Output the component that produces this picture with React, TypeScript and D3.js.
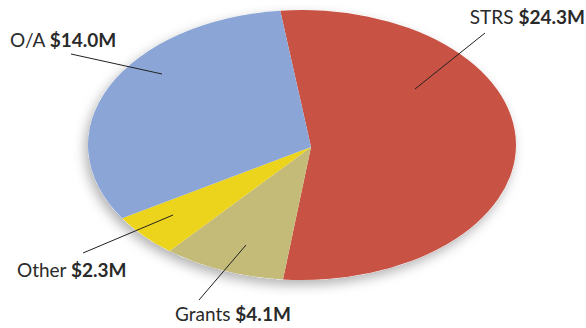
import React from "react";
import * as d3 from "d3";

const categories = ["STRS", "Grants", "Other", "O/A"];
const values = [24.3, 4.1, 2.3, 14.0];
const valueLabels = ["$24.3M", "$4.1M", "$2.3M", "$14.0M"];
const colors = ["#C85244", "#C4BB79", "#ECD41C", "#8BA5D6"];

const W = 586, H = 328;
const C = { x: 302, y: 145 };
const RX = 214, RY = 135;
const APEX = { x: 311, y: 147 };
const START = (-8.1 * Math.PI) / 180;

const labelPos = [
  { x: 585, y: 24, anchor: "end", line: [[485, 33], [415, 89]] },
  { x: 175, y: 321, anchor: "start", line: [[199, 300], [246, 245]] },
  { x: 17, y: 277, anchor: "start", line: [[83, 253], [173, 215]] },
  { x: 10, y: 47, anchor: "start", line: [[71, 54], [162, 74]] },
];

function rimPoint(theta: number) {
  const ux = (APEX.x - C.x) / RX, uy = (APEX.y - C.y) / RY;
  const vx = Math.sin(theta), vy = -Math.cos(theta);
  const b = ux * vx + uy * vy;
  const s = -b + Math.sqrt(b * b - (ux * ux + uy * uy) + 1);
  const nx = ux + s * vx, ny = uy + s * vy;
  return { x: C.x + RX * nx, y: C.y + RY * ny, t: Math.atan2(nx, -ny) };
}

export default function App() {
  const pie = d3.pie<number>().sort(null).startAngle(START).endAngle(START + 2 * Math.PI);
  const arcs = pie(values);
  const paths = arcs.map((a) => {
    const p0 = rimPoint(a.startAngle), p1 = rimPoint(a.endAngle);
    let span = p1.t - p0.t;
    while (span < 0) span += 2 * Math.PI;
    const large = span > Math.PI ? 1 : 0;
    const p = d3.path();
    p.moveTo(APEX.x, APEX.y);
    p.lineTo(p0.x, p0.y);
    return p.toString() + `A${RX},${RY},0,${large},1,${p1.x},${p1.y}Z`;
  });
  return (
    <svg width={W} height={H} style={{ position: "absolute", left: 0, top: 0, background: "#fff" }}>
      <defs>
        <filter id="sh" x="-20%" y="-20%" width="140%" height="140%">
          <feDropShadow dx={-3} dy={5} stdDeviation={6} floodColor="#000" floodOpacity={0.3} />
        </filter>
      </defs>
      <ellipse cx={C.x} cy={C.y} rx={RX} ry={RY} fill="#fff" filter="url(#sh)" />
      {paths.map((d, i) => (
        <path key={categories[i]} d={d} fill={colors[i]} />
      ))}
      {labelPos.map((l, i) => (
        <g key={categories[i]}>
          <line x1={l.line[0][0]} y1={l.line[0][1]} x2={l.line[1][0]} y2={l.line[1][1]} stroke="#222" strokeWidth={1} />
          <text x={l.x} y={l.y} textAnchor={l.anchor as any} fontFamily="Lato, 'Open Sans', sans-serif" fontSize={19} fill="#2a2a2a">
            {categories[i]}{" "}
            <tspan fontWeight="bold">{valueLabels[i]}</tspan>
          </text>
        </g>
      ))}
    </svg>
  );
}
